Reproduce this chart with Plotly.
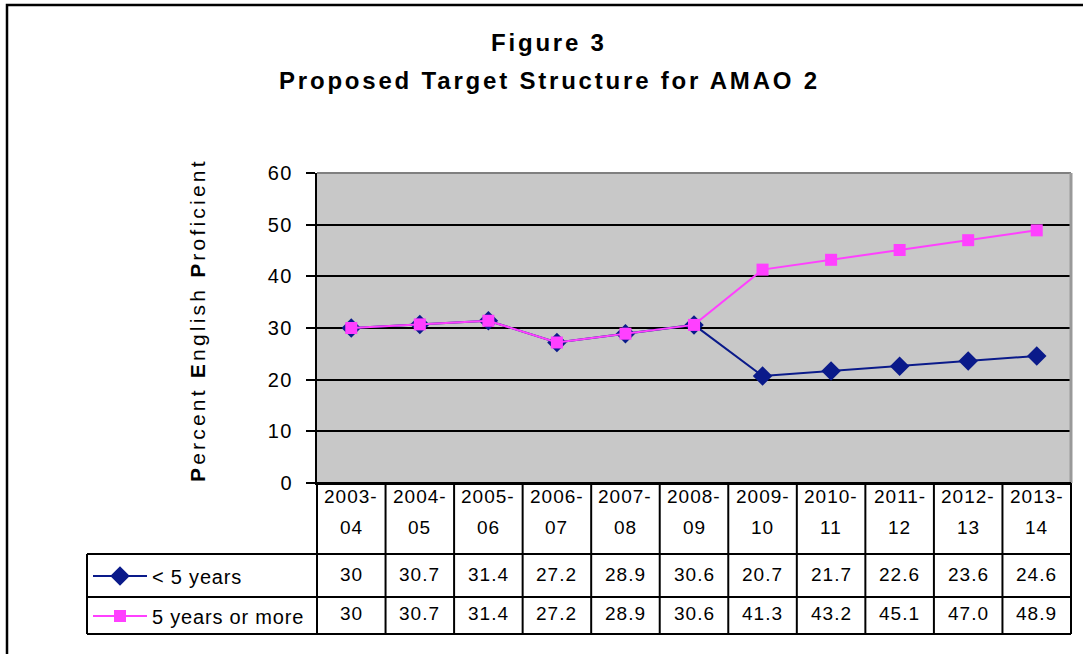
import plotly.graph_objects as go

# ---------------- data ----------------
categories = ["2003-04", "2004-05", "2005-06", "2006-07", "2007-08", "2008-09",
              "2009-10", "2010-11", "2011-12", "2012-13", "2013-14"]
under5 = [30, 30.7, 31.4, 27.2, 28.9, 30.6, 20.7, 21.7, 22.6, 23.6, 24.6]
over5 = [30, 30.7, 31.4, 27.2, 28.9, 30.6, 41.3, 43.2, 45.1, 47.0, 48.9]
under5_text = ["30", "30.7", "31.4", "27.2", "28.9", "30.6", "20.7", "21.7", "22.6", "23.6", "24.6"]
over5_text = ["30", "30.7", "31.4", "27.2", "28.9", "30.6", "41.3", "43.2", "45.1", "47.0", "48.9"]
series_names = ["< 5 years", "5 years or more"]
y_ticks = [0, 10, 20, 30, 40, 50, 60]

title1 = "Figure 3"
title2 = "Proposed Target Structure for AMAO 2"

NAVY = "#0A1A8A"
PINK = "#FF40FF"
FONT = "Liberation Sans"

# ---------------- layout geometry (pixels) ----------------
W, H = 1083, 654
L, R, T, B = 317, 1071, 173, 483
PW, PH = R - L, B - T


def px(p):
    return (p - L) / PW


def py(p):
    return (B - p) / PH


def sp(text, ls):
    return f'<span style="letter-spacing:{ls}px">{text}</span>'


fig = go.Figure()

fig.add_trace(go.Scatter(
    x=categories, y=under5, name=sp(series_names[0], 0.8), mode="lines+markers",
    line=dict(color=NAVY, width=2),
    marker=dict(symbol="diamond", size=15, color=NAVY),
    legend="legend",
))
fig.add_trace(go.Scatter(
    x=categories, y=over5, name=sp(series_names[1], 0.8), mode="lines+markers",
    line=dict(color=PINK, width=2),
    marker=dict(symbol="square", size=12, color=PINK),
    legend="legend2",
))

n = len(categories)

annotations = []
# titles
annotations.append(dict(text=sp("<b>" + title1 + "</b>", 2.8), x=px(549), y=py(42),
                        xref="paper", yref="paper", showarrow=False,
                        font=dict(family=FONT, size=24, color="black"),
                        xanchor="center", yanchor="middle"))
annotations.append(dict(text=sp("<b>" + title2 + "</b>", 2.8), x=px(549), y=py(81),
                        xref="paper", yref="paper", showarrow=False,
                        font=dict(family=FONT, size=24, color="black"),
                        xanchor="center", yanchor="middle"))
# y axis title
annotations.append(dict(text=sp("<b>P</b>ercent <b>E</b>nglish <b>P</b>roficient", 3.2),
                        x=px(197), y=py(320), xref="paper", yref="paper",
                        showarrow=False, textangle=-90,
                        font=dict(family=FONT, size=21, color="black"),
                        xanchor="center", yanchor="middle"))

# table text
for i, c in enumerate(categories):
    cx = (i + 0.5) / n
    first, second = c.split("-")
    annotations.append(dict(text=sp(first + "-", 1), x=cx, y=py(496), xref="paper", yref="paper",
                            showarrow=False, font=dict(family=FONT, size=19, color="black"),
                            xanchor="center", yanchor="middle"))
    annotations.append(dict(text=sp(second, 1), x=cx, y=py(527), xref="paper", yref="paper",
                            showarrow=False, font=dict(family=FONT, size=19, color="black"),
                            xanchor="center", yanchor="middle"))
    annotations.append(dict(text=sp(under5_text[i], 1), x=cx, y=py(574), xref="paper", yref="paper",
                            showarrow=False, font=dict(family=FONT, size=19, color="black"),
                            xanchor="center", yanchor="middle"))
    annotations.append(dict(text=sp(over5_text[i], 1), x=cx, y=py(613), xref="paper", yref="paper",
                            showarrow=False, font=dict(family=FONT, size=19, color="black"),
                            xanchor="center", yanchor="middle"))

shapes = []
# figure frame
shapes.append(dict(type="rect", xref="paper", yref="paper",
                   x0=px(7), x1=px(1100), y0=py(5), y1=py(670),
                   line=dict(color="black", width=2.5)))
# plot area borders (grey top and right)
shapes.append(dict(type="line", xref="paper", yref="paper", x0=0, x1=1, y0=1, y1=1,
                   line=dict(color="#808080", width=2)))
shapes.append(dict(type="line", xref="paper", yref="paper", x0=1, x1=1, y0=0, y1=1,
                   line=dict(color="#999999", width=3)))
# table horizontal lines
for yy, x0 in [(B, L), (554, 87), (597, 87), (634, 87)]:
    shapes.append(dict(type="line", xref="paper", yref="paper", x0=px(x0), x1=1,
                       y0=py(yy), y1=py(yy), line=dict(color="black", width=2)))
# table vertical lines
shapes.append(dict(type="line", xref="paper", yref="paper", x0=px(87), x1=px(87),
                   y0=py(554), y1=py(634), line=dict(color="black", width=2)))
for k in range(n + 1):
    shapes.append(dict(type="line", xref="paper", yref="paper", x0=k / n, x1=k / n,
                       y0=py(B), y1=py(634), line=dict(color="black", width=2)))

fig.update_layout(
    width=W, height=H,
    margin=dict(l=L, r=W - R, t=T, b=H - B, pad=0),
    paper_bgcolor="white",
    plot_bgcolor="#C8C8C8",
    font=dict(family=FONT, color="black"),
    showlegend=True,
    legend=dict(x=px(88), y=py(576), xanchor="left", yanchor="middle",
                bgcolor="rgba(0,0,0,0)", itemwidth=54,
                font=dict(family=FONT, size=20, color="black")),
    legend2=dict(x=px(88), y=py(616), xanchor="left", yanchor="middle",
                 bgcolor="rgba(0,0,0,0)", itemwidth=54,
                 font=dict(family=FONT, size=20, color="black")),
    annotations=annotations,
    shapes=shapes,
    xaxis=dict(type="category", range=[-0.5, n - 0.5], showgrid=False,
               showticklabels=False, ticks="", showline=True,
               linecolor="black", linewidth=2, zeroline=False, fixedrange=True),
    yaxis=dict(range=[0, 60], tickvals=y_ticks,
               ticktext=[sp(str(v), 1.5) for v in y_ticks],
               showgrid=True, gridcolor="black", gridwidth=1.5,
               ticks="outside", ticklen=9, tickwidth=2, tickcolor="black",
               ticklabelstandoff=9,
               tickfont=dict(family=FONT, size=20, color="black"),
               showline=True, linecolor="black", linewidth=2,
               zeroline=False, fixedrange=True),
)

fig.write_html("out.html", config={"displayModeBar": False},
               post_script="document.body.style.margin='0';document.body.style.overflow='hidden';")
